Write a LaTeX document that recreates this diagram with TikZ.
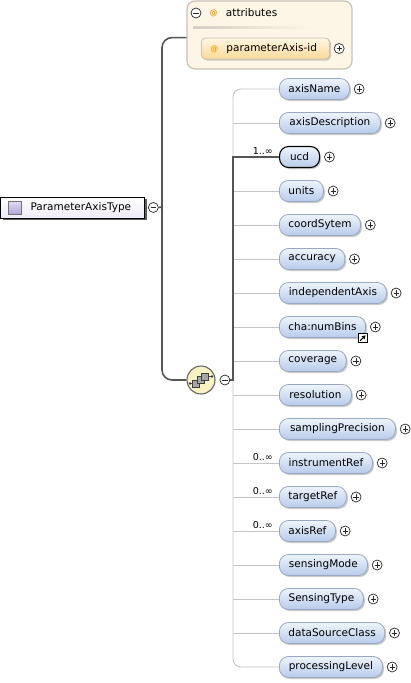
\documentclass[tikz,border=0pt]{standalone}
\usepackage{fontspec}
\setmainfont{DejaVu Sans}
\usetikzlibrary{positioning,shadows,arrows.meta}

\definecolor{elemtop}{HTML}{EEF4FC}
\definecolor{elembot}{HTML}{B7CBEA}
\definecolor{elemline}{HTML}{98A8C0}
\definecolor{attrfill}{HTML}{FDF6E7}
\definecolor{attrline}{HTML}{C9C2B4}
\definecolor{attrtop}{HTML}{FFF6E2}
\definecolor{attrbot}{HTML}{FBD999}
\definecolor{atsign}{HTML}{F0A010}
\definecolor{seqfill}{HTML}{F8F1C2}
\definecolor{treeline}{HTML}{555555}
\definecolor{optline}{HTML}{C4C4C4}
\definecolor{typetop}{HTML}{E4DCF4}
\definecolor{typebot}{HTML}{B4A4DC}

\newcommand{\atsym}{{\fontsize{8}{9}\selectfont\bfseries\textcolor{atsign}{@}}}

\begin{document}
\begin{tikzpicture}[
	x=1pt, y=-1pt,
	font=\fontsize{10.5}{12}\selectfont,
	wire/.style={
		treeline,
		line width=1.6pt
	},
	optwire/.style={
		optline,
		line width=0.9pt
	},
	element/.style={
		rectangle,
		rounded corners=9pt,
		draw=elemline,
		line width=0.8pt,
		top color=elemtop,
		bottom color=elembot,
		minimum height=21pt,
		inner xsep=9pt,
		anchor=west,
		drop shadow={shadow xshift=1.5pt, shadow yshift=-1.5pt, fill=black!60, opacity=0.35}
	},
	optional/.style={},
	required/.style={
		draw=black,
		line width=1.1pt
	},
	attribute/.style={
		rectangle,
		rounded corners=4pt,
		draw=attrline,
		line width=0.8pt,
		top color=attrtop,
		bottom color=attrbot,
		minimum height=21pt,
		text width=110pt,
		align=left,
		inner xsep=9pt,
		anchor=west,
		drop shadow={shadow xshift=1.5pt, shadow yshift=-1.5pt, fill=black!60, opacity=0.3}
	},
	attrbox/.style={
		rectangle,
		rounded corners=8pt,
		draw=attrline,
		line width=1.2pt,
		fill=attrfill,
		minimum width=165pt,
		minimum height=68pt
	},
	rootbox/.style={
		rectangle,
		draw=black,
		line width=1pt,
		top color=white,
		bottom color=typetop!60,
		minimum width=144pt,
		minimum height=21pt,
		drop shadow={shadow xshift=2pt, shadow yshift=-2pt, fill=black!80, opacity=0.8}
	},
	typeicon/.style={
		rectangle,
		draw=black!55,
		top color=typetop,
		bottom color=typebot,
		minimum size=13pt,
		inner sep=0pt
	},
	plusbtn/.style={
		circle,
		draw=black!85,
		fill=white,
		line width=0.7pt,
		minimum size=10pt,
		inner sep=0pt,
		path picture={
			\draw[black!85, line width=0.6pt]
				(path picture bounding box.center) +(-2.6pt,0) -- +(2.6pt,0)
				(path picture bounding box.center) +(0,-2.6pt) -- +(0,2.6pt);
		}
	},
	minusbtn/.style={
		circle,
		draw=black!85,
		fill=white,
		line width=0.7pt,
		minimum size=10pt,
		inner sep=0pt,
		path picture={
			\draw[black!85, line width=0.6pt]
				(path picture bounding box.center) +(-2.6pt,0) -- +(2.6pt,0);
		}
	},
	sequence/.style={
		circle,
		draw=black!60,
		line width=1.1pt,
		fill=seqfill,
		minimum size=28pt,
		inner sep=0pt,
		path picture={
			\begin{scope}[shift={(path picture bounding box.center)}]
				\draw[black!75, line width=0.7pt] (-11,3.5) -- (-7,3.5) (7,-3.5) -- (11,-3.5);
				\fill[black!75] (-11,3.5) circle (1.4) (11,-3.5) circle (1.4);
				\foreach \d in {0,1,2}
					\draw[fill=black!35, draw=black!75, line width=0.6pt]
						(-8.5+4.5*\d,0-3.5*\d) rectangle (-1.5+4.5*\d,7-3.5*\d);
			\end{scope}
		}
	},
	refmark/.style={
		rectangle,
		draw=black,
		fill=white,
		line width=0.7pt,
		minimum size=9pt,
		inner sep=0pt,
		path picture={
			\draw[-{Triangle[length=3.5pt,width=4pt]}, line width=1pt]
				([shift={(-2.8pt,-2.8pt)}]path picture bounding box.center) --
				([shift={(2.6pt,2.6pt)}]path picture bounding box.center);
		}
	},
	card/.style={
		inner sep=0pt,
		font=\fontsize{9.5}{10}\selectfont
	}
]

\useasboundingbox (0,0) rectangle (410,683);



% attributes
\node[attrbox] (attrs) at (269.5,35) {};
\node[minusbtn] (attrminus) at (196,13) {};
\node[inner sep=0pt, right=8pt of attrminus] (attrat) {\atsym};
\node[inner sep=0pt, right=8pt of attrat] (attrtitle) {attributes};
\shade[left color=attrline!80, right color=attrfill] (193,26.5) rectangle (312,28.5);
\node[attribute] (pid) at (201,48.5) {\atsym\hspace{8pt}parameterAxis-id};
\node[plusbtn, right=4pt of pid] (pidplus) {};



% the type
\node[rootbox] (root) at (72.5,207.5) {};
\node[typeicon, right=8pt of root.west] (rooticon) {};
\node[inner sep=0pt, right=9pt of rooticon] (rootname) {ParameterAxisType};
\node[minusbtn, right=3pt of root] (rootminus) {};

\node[sequence] (seq) at (201,380) {};
\node[minusbtn, right=4pt of seq] (seqminus) {};

\coordinate (trunk) at (162,207);
\coordinate (spine) at (233,380);



% children of the sequence, name/right edge/kind
\def\children{
	axisName/347/optional,
	axisDescription/380/optional,
	ucd/319/required,
	units/323/optional,
	coordSytem/360/optional,
	accuracy/343/optional,
	independentAxis/386/optional,
	cha:numBins/365/optional,
	coverage/344/optional,
	resolution/351/optional,
	samplingPrecision/395/optional,
	instrumentRef/372/optional,
	targetRef/345/optional,
	axisRef/335/optional,
	sensingMode/367/optional,
	SensingType/363/optional,
	dataSourceClass/383/optional,
	processingLevel/382/optional%
}

\foreach \name/\rw/\kind [count=\i] in \children {
	\pgfmathsetmacro{\nodewidth}{\rw-279}
	\node[element, \kind, minimum width=\nodewidth pt] (e\i) at (279,55+34*\i) {\name};
	\node[plusbtn, right=4pt of e\i] (p\i) {};
}

\node[refmark, xshift=-3pt] (e8ref) at (e8.south east) {};



% connectors
\draw[optwire, rounded corners=8pt] (e1.west) -| (spine |- e18.west) -- (e18.west);
\foreach \i in {2,...,17} {
	\draw[optwire] (spine |- e\i.west) -- (e\i.west);
}

\draw[wire] (rootminus.east) -- (trunk);
\draw[wire, rounded corners=10pt] (attrs.west |- pid.north) -| (trunk) |- (seq.west);
\draw[wire] (seqminus.east) -- (spine) |- (e3.west);



\foreach \k/\c in {3/1, 12/0, 13/0, 14/0} {
	\node[card, above left=2pt and 6pt of e\k.west] {\c..∞};
}



\end{tikzpicture}
\end{document}
